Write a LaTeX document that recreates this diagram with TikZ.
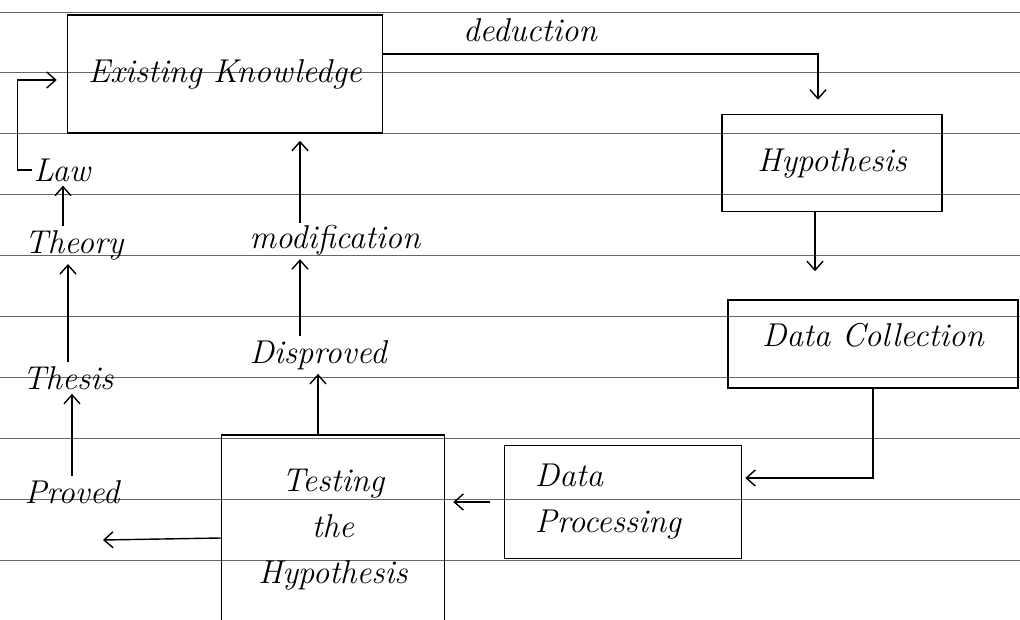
\documentclass[tikz,border=0pt]{standalone}
\usepackage{fontspec}
\setmainfont{Latin Modern Roman}
\usetikzlibrary{arrows.meta}
\begin{document}
\begin{tikzpicture}[x=1pt,y=-1pt,
  hand/.style={font=\fontsize{33}{46}\selectfont\itshape, inner sep=2pt},
  boxnode/.style={hand, draw=black, line width=1.5pt, align=center},
  lbl/.style={hand},
  arr/.style={draw=black, line width=1.4pt, -{Straight Barb[length=9pt,width=16pt]}},
  paper/.style={draw=black!60, line width=0.9pt}]
\useasboundingbox (0,0) rectangle (1020,620);
\clip (0,0) rectangle (1020,620);
\fill[white] (0,0) rectangle (1020,620);
% ruled paper
\foreach \k in {0,...,10} {
  \draw[paper] (0,{12+60.9*\k}) -- (1020,{12+60.9*\k});
}
% boxes
\node[boxnode, minimum width=315pt, minimum height=118pt] (ek) at (225,74) {Existing Knowledge};
\node[boxnode, minimum width=220pt, minimum height=97pt] (hyp) at (832,163) {Hypothesis};
\node[boxnode, minimum width=290pt, minimum height=88pt, text depth=18pt] (dc) at (873,344) {Data Collection};
\node[boxnode, minimum width=237pt, minimum height=113pt, align=left, xshift=0pt] (dp) at (623,502) {Data\\Processing\hspace*{30pt}};
\node[boxnode, minimum width=223pt, minimum height=190pt] (test) at (333,530) {Testing\\the\\Hypothesis};
% labels
\node[lbl] (ded) at (530,30) {deduction};
\node[lbl] (law) at (62,170) {Law};
\node[lbl] (theory) at (74,245) {Theory};
\node[lbl] (thesis) at (68,378) {Thesis};
\node[lbl] (proved) at (72,492) {Proved};
\node[lbl] (modif) at (335,240) {modification};
\node[lbl] (disp) at (318,355) {Disproved};
\coordinate (pv) at (103,540);
% connectors
\draw[arr, shorten >=14pt] ([yshift=20pt]ek.east) -| ([xshift=-14pt]hyp.north);
\draw[arr, shorten >=28pt] ([xshift=-17pt]hyp.south) -- ([xshift=-17pt]hyp.south |- dc.north);
\draw[arr, shorten >=3pt] (dc.south) |- ([yshift=24pt]dp.east);
\draw[arr, shorten <=14pt, shorten >=8pt] (dp.west) -- (dp.west -| test.east);
\draw[arr, shorten >=2pt] (test.north -| disp) -- (disp.south);
\draw[arr, shorten <=2pt, shorten >=2pt] ([xshift=-18pt]disp.north) -- ([xshift=-18pt]disp.north |- modif.south);
\draw[arr, shorten >=7pt] ([xshift=-35pt]modif.north) -- ([xshift=-35pt]modif.north |- ek.south);
\draw[arr] ([yshift=-8pt]test.west) -- (pv);
\draw[arr, shorten <=2pt, shorten >=2pt] (proved.north) -- (proved.north |- thesis.south);
\draw[arr, shorten <=2pt, shorten >=2pt] (thesis.north) -- (thesis.north |- theory.south);
\draw[arr, shorten <=2pt, shorten >=2pt] ([xshift=-11pt]theory.north) -- ([xshift=-11pt]theory.north |- law.south);
\draw[arr, shorten >=10pt] (law.west) -- ++(-14,0) |- ([yshift=-6pt]ek.west);
\end{tikzpicture}
\end{document}
